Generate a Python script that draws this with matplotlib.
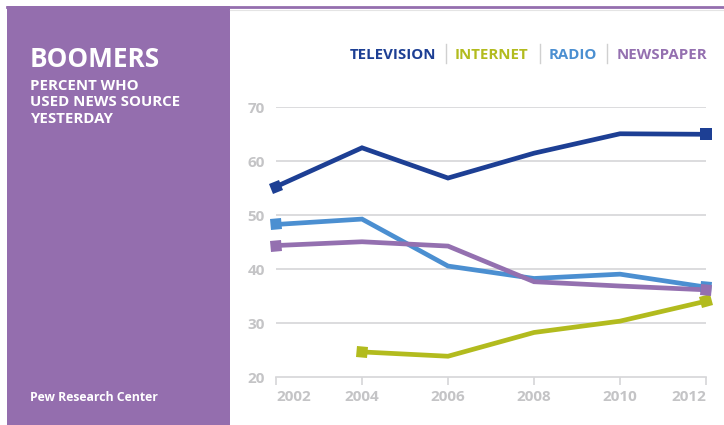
import matplotlib.pyplot as plt
import numpy as np
from matplotlib.markers import MarkerStyle
from matplotlib.transforms import Affine2D
from matplotlib.patches import Rectangle
from matplotlib.lines import Line2D

plt.rcParams['font.family'] = ['Open Sans', 'DejaVu Sans']

years = [2002, 2004, 2006, 2008, 2010, 2012]
television = [55.3, 62.5, 56.9, 61.5, 65.1, 65.0]
internet = [None, 24.7, 23.9, 28.3, 30.4, 34.1]
radio = [48.3, 49.3, 40.6, 38.3, 39.1, 36.7]
newspaper = [44.4, 45.1, 44.3, 37.7, 36.9, 36.2]

series_names = ['TELEVISION', 'INTERNET', 'RADIO', 'NEWSPAPER']
series_values = [television, internet, radio, newspaper]
colors = ['#1d3f94', '#b2bb1e', '#4b8fd1', '#9470b0']
yticks = [20, 30, 40, 50, 60, 70]

purple = '#946eae'
tick_gray = '#c4c4c6'
grid_gray = '#d6d6d8'

W, H = 724, 425
fig = plt.figure(figsize=(W / 100, H / 100), dpi=100)


def px(x, y):
    return x / W, 1 - y / H


# side panel + top rule
fig.patches.append(Rectangle((7 / W, 0), (230 - 7) / W, 1 - 6 / H,
                             transform=fig.transFigure, facecolor=purple,
                             edgecolor='none', zorder=0))
fig.add_artist(Line2D([7 / W, 1], [1 - 7 / H, 1 - 7 / H], color=purple, lw=2.0))
fig.add_artist(Line2D([230 / W, 1], [1 - 9.5 / H, 1 - 9.5 / H], color='#e4e4e4', lw=0.8))

fig.text(*px(30, 67), 'BOOMERS', color='white', fontsize=18.8,
         fontweight='bold', va='baseline')
for i, line in enumerate(['PERCENT WHO', 'USED NEWS SOURCE', 'YESTERDAY']):
    fig.text(*px(30, 90 + i * 16.3), line, color='white', fontsize=10.8,
             fontweight='bold', va='baseline')
fig.text(*px(30, 401), 'Pew Research Center', color='white', fontsize=8.8,
         fontweight='bold', va='baseline')

# plot area: 2002..2012 -> x 276..706, 20..70 -> y 377..107
x0, x1 = 276, 706
y0, y1 = 377.3, 107.3
ax = fig.add_axes([x0 / W, 1 - y0 / H, (x1 - x0) / W, (y0 - y1) / H])
ax.set_xlim(2002, 2012)
ax.set_ylim(20, 70)
ax.patch.set_alpha(0)
for s in ['top', 'right', 'left']:
    ax.spines[s].set_visible(False)
ax.spines['bottom'].set_color(grid_gray)
ax.spines['bottom'].set_linewidth(1.2)
for y in yticks[1:]:
    ax.axhline(y, color=grid_gray, lw=1.2, zorder=1)

ax.set_xticks(years)
ax.set_yticks(yticks)
ax.tick_params(axis='x', length=6, width=1.2, color=grid_gray, labelcolor=tick_gray,
               labelsize=11, pad=3)
ax.tick_params(axis='y', length=0, labelcolor=tick_gray, labelsize=11, pad=8)
for lbl in ax.get_xticklabels() + ax.get_yticklabels():
    lbl.set_fontweight('bold')
# outer year labels are pulled inside the axis ends
xl = ax.get_xticklabels()
xl[0].set_ha('left')
xl[-1].set_ha('right')

fig.canvas.draw()
for vals, c in zip(series_values, colors):
    xs = [yr for yr, v in zip(years, vals) if v is not None]
    ys = [v for v in vals if v is not None]
    ax.plot(xs, ys, color=c, lw=3.4, solid_joinstyle='miter', zorder=3, clip_on=False)
    # square end caps turned along the line
    pts = ax.transData.transform(np.column_stack([xs, ys]))
    for a, b in [(0, 1), (-1, -2)]:
        d = pts[b] - pts[a]
        ang = np.degrees(np.arctan2(d[1], d[0]))
        m = MarkerStyle('s', transform=Affine2D().rotate_deg(ang))
        ax.plot([xs[a]], [ys[a]], marker=m, ms=8, color=c, mew=0, zorder=4,
                clip_on=False)

# legend row with thin separators
leg_pos = [350, 455, 549, 617]
for name, c, lx in zip(series_names, colors, leg_pos):
    fig.text(*px(lx, 59), name, color=c, fontsize=10.8, fontweight='bold',
             va='baseline')
for sx in [446, 540, 607]:
    fig.add_artist(Line2D([sx / W, sx / W], [1 - 63 / H, 1 - 44 / H],
                          color='#d0d0d0', lw=1.0))

fig.savefig('out.png', dpi=100, facecolor='white')
